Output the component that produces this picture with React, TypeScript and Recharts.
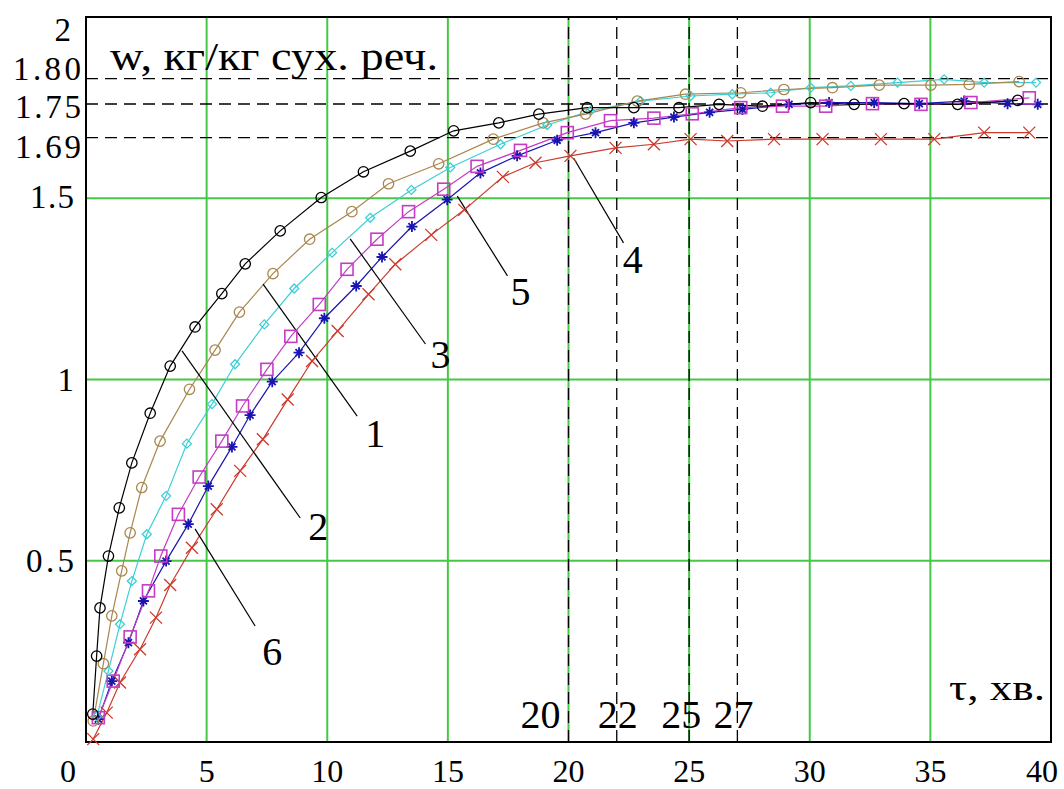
import React from 'react';
import {
  LineChart,
  Line,
  XAxis,
  YAxis,
  CartesianGrid,
  ReferenceLine,
  ReferenceArea,
  ReferenceDot
} from 'recharts';

const FONT = '"Liberation Serif", "Times New Roman", serif';

// curve 1 (brown circles)
const tau1 = [0.30, 0.72, 1.07, 1.48, 1.83, 2.31, 3.07, 4.29, 5.35, 6.36, 7.75, 9.27, 11.02, 12.54, 14.62, 16.88, 18.95, 20.71, 22.85, 24.85, 27.14, 28.93, 30.94, 32.88, 35.02, 36.61, 38.68];
const w1 = [0.058, 0.216, 0.348, 0.472, 0.577, 0.702, 0.830, 0.973, 1.081, 1.186, 1.292, 1.387, 1.463, 1.540, 1.595, 1.663, 1.708, 1.732, 1.768, 1.787, 1.791, 1.800, 1.805, 1.812, 1.812, 1.814, 1.822];

// curve 2 (black circles)
const tau2 = [0.28, 0.44, 0.58, 0.93, 1.38, 1.90, 2.66, 3.49, 4.52, 5.63, 6.60, 8.05, 9.75, 11.50, 13.44, 15.24, 17.11, 18.77, 20.78, 22.71, 24.58, 26.24, 28.04, 30.04, 31.84, 33.91, 36.13, 38.62];
const w2 = [0.077, 0.237, 0.370, 0.513, 0.646, 0.770, 0.907, 1.037, 1.145, 1.237, 1.319, 1.410, 1.502, 1.573, 1.630, 1.686, 1.708, 1.732, 1.750, 1.750, 1.750, 1.759, 1.754, 1.764, 1.759, 1.761, 1.759, 1.770];

// curve 3 (cyan diamonds)
const tau3 = [0.45, 0.93, 1.41, 1.90, 2.52, 3.32, 4.18, 5.22, 6.18, 7.39, 8.63, 10.20, 11.78, 13.49, 15.10, 17.18, 19.12, 20.91, 22.99, 25.06, 26.79, 28.38, 30.04, 31.70, 33.64, 35.57, 37.23, 39.38];
const w3 = [0.070, 0.196, 0.325, 0.444, 0.573, 0.679, 0.823, 0.932, 1.042, 1.152, 1.251, 1.350, 1.446, 1.523, 1.585, 1.649, 1.702, 1.741, 1.768, 1.782, 1.787, 1.791, 1.805, 1.810, 1.819, 1.828, 1.819, 1.819];

// curve 4 (red crosses)
const tau4 = [0.30, 0.86, 1.41, 2.24, 2.90, 3.49, 4.39, 5.42, 6.39, 7.33, 8.36, 9.37, 10.43, 11.71, 12.82, 14.31, 15.68, 17.28, 18.63, 20.08, 21.95, 23.54, 25.06, 26.58, 28.52, 30.53, 32.95, 35.16, 37.23, 39.10];
const w4 = [0.008, 0.081, 0.164, 0.256, 0.343, 0.433, 0.536, 0.642, 0.748, 0.835, 0.945, 1.051, 1.134, 1.235, 1.318, 1.399, 1.468, 1.559, 1.598, 1.617, 1.639, 1.649, 1.663, 1.658, 1.663, 1.663, 1.663, 1.663, 1.681, 1.681];

// curve 5 (magenta squares)
const tau5 = [0.51, 1.13, 1.83, 2.59, 3.10, 3.83, 4.69, 5.63, 6.49, 7.50, 8.49, 9.67, 10.82, 12.06, 13.37, 14.83, 16.21, 18.01, 19.95, 21.74, 23.54, 25.13, 27.14, 28.87, 30.66, 32.60, 34.61, 36.68, 39.10];
const w5 = [0.067, 0.168, 0.290, 0.417, 0.513, 0.628, 0.731, 0.830, 0.927, 1.028, 1.119, 1.207, 1.304, 1.387, 1.463, 1.525, 1.588, 1.632, 1.681, 1.714, 1.721, 1.733, 1.750, 1.754, 1.754, 1.761, 1.759, 1.764, 1.777];

// curve 6 (blue stars)
const tau6 = [0.51, 1.07, 1.76, 2.38, 3.32, 4.24, 5.07, 6.05, 6.80, 7.72, 8.83, 9.88, 11.20, 12.27, 13.51, 14.97, 16.35, 17.87, 19.53, 21.12, 22.71, 24.37, 25.85, 27.21, 29.14, 30.80, 32.67, 34.54, 36.40, 38.20, 39.45];
const w6 = [0.063, 0.168, 0.274, 0.389, 0.499, 0.601, 0.706, 0.814, 0.902, 0.994, 1.074, 1.169, 1.258, 1.338, 1.422, 1.496, 1.570, 1.617, 1.660, 1.681, 1.708, 1.724, 1.737, 1.745, 1.759, 1.764, 1.764, 1.761, 1.768, 1.761, 1.759];

const xTicks = [0, 5, 10, 15, 20, 25, 30, 35, 40];
const yTicks = [0.5, 1, 1.5, 1.667, 1.76, 1.83, 2];
const yTickLabels = ['0.5', '1', '1.5', '1.69', '1.75', '1.80', '2'];
const gridX = [5, 10, 15, 20, 25, 30, 35];
const gridY = [0.5, 1, 1.5];

// dashed guide levels as they sit in the figure
const levelW = [1.667, 1.76, 1.83];
const markTau = [20, 22, 25, 27];
const markLabels = ['20', '22', '25', '27'];

// curve numbers with leader lines
const calloutNames = ['1', '2', '3', '4', '5', '6'];
const calloutFrom = [[7.34, 1.263], [3.98, 1.079], [10.95, 1.388], [20.21, 1.611], [15.39, 1.506], [4.52, 0.588]];
const calloutTo = [[11.24, 0.899], [8.88, 0.618], [14.07, 1.098], [22.28, 1.377], [17.47, 1.286], [7.01, 0.320]];
const calloutAt = [[11.99, 0.852], [9.63, 0.596], [14.69, 1.070], [22.66, 1.332], [18.01, 1.244], [7.72, 0.251]];

const zip = (tau: number[], w: number[]) => tau.map((t, i) => ({ tau: t, w: w[i] }));

const series = [
  { name: '4', data: zip(tau4, w4), color: '#cc3a2c', shape: 'cross' },
  { name: '6', data: zip(tau6, w6), color: '#1a14b0', shape: 'star' },
  { name: '5', data: zip(tau5, w5), color: '#c43cc4', shape: 'square' },
  { name: '3', data: zip(tau3, w3), color: '#3ccfd6', shape: 'diamond' },
  { name: '1', data: zip(tau1, w1), color: '#a8864e', shape: 'circle' },
  { name: '2', data: zip(tau2, w2), color: '#000000', shape: 'circle' },
];

// label nudges (px), the figure spreads the crowded top labels apart
const yTickShift: Record<string, { dx: number; dy: number; len?: number }> = {
  '0.5': { dx: -12, dy: 0, len: 48 },
  '1': { dx: -12, dy: 0 },
  '1.5': { dx: -12, dy: -2, len: 44 },
  '1.69': { dx: -5, dy: 9, len: 66 },
  '1.75': { dx: -5, dy: 2, len: 66 },
  '1.80': { dx: -5, dy: -10, len: 68 },
  '2': { dx: -15, dy: 12 },
};
const markShift = [-28, 1, -8, -4];

const marker = (shape: string, color: string) => (props: any) => {
  const { cx, cy, index } = props;
  if (cx == null || cy == null) return <g key={index} />;
  const common = { fill: 'none', stroke: color, strokeWidth: 1.3 };
  if (shape === 'circle') return <circle key={index} cx={cx} cy={cy} r={5.2} {...common} />;
  if (shape === 'diamond') {
    const s = 4.5;
    return <path key={index} d={`M${cx},${cy - s}L${cx + s},${cy}L${cx},${cy + s}L${cx - s},${cy}Z`} {...common} />;
  }
  if (shape === 'square') return <rect key={index} x={cx - 6} y={cy - 6} width={12} height={12} {...common} strokeWidth={1.6} />;
  if (shape === 'cross') {
    const s = 6;
    return <path key={index} d={`M${cx - s},${cy - s}L${cx + s},${cy + s}M${cx - s},${cy + s}L${cx + s},${cy - s}`} {...common} />;
  }
  const a = 5.5, b = 3.5;
  return (
    <path key={index}
      d={`M${cx - a},${cy}L${cx + a},${cy}M${cx},${cy - a}L${cx},${cy + a}M${cx - b},${cy - b}L${cx + b},${cy + b}M${cx - b},${cy + b}L${cx + b},${cy - b}`}
      stroke={color} strokeWidth={1.8} fill="none" />
  );
};

const XTick = (props: any) => {
  const { x, y, payload, index } = props;
  const dx = index === 0 ? -18 : index === xTicks.length - 1 ? -9 : 0;
  return (
    <text x={x + dx} y={y + 40} textAnchor="middle" fontSize={32} fontFamily={FONT} fill="#000">
      {payload.value}
    </text>
  );
};

const YTick = (props: any) => {
  const { x, y, payload } = props;
  const i = yTicks.findIndex(v => Math.abs(v - payload.value) < 1e-6);
  const label = yTickLabels[i];
  const shift = yTickShift[label] || { dx: 0, dy: 0 };
  return (
    <text x={x + shift.dx} y={y + shift.dy} dy="0.35em" textAnchor="end" fontSize={33} fontFamily={FONT} fill="#000"
      textLength={shift.len} lengthAdjust={shift.len ? 'spacing' : undefined}>
      {label}
    </text>
  );
};

export default function App() {
  return (
    <div style={{ position: 'absolute', left: 0, top: 0, width: 1064, height: 789, background: '#fff' }}>
      <LineChart width={1064} height={789} margin={{ top: 17, right: 13, bottom: 7, left: 8 }} style={{ fontFamily: FONT }}>
        <CartesianGrid horizontalValues={gridY} verticalValues={gridX} stroke="#46c846" strokeWidth={2} />
        <XAxis
          dataKey="tau"
          type="number"
          domain={[0, 40]}
          ticks={xTicks}
          interval={0}
          height={40}
          tickLine={false}
          tickSize={0}
          tickMargin={0}
          axisLine={{ stroke: '#000', strokeWidth: 2 }}
          tick={<XTick />}
          label={{
            content: (p: any) => (
              <text x={p.viewBox.x + p.viewBox.width - 6} y={p.viewBox.y - 42} textAnchor="end"
                fontSize={36} fontFamily={FONT} fill="#000" textLength={96} lengthAdjust="spacingAndGlyphs">
                τ, хв.
              </text>
            )
          }}
        />
        <YAxis
          type="number"
          domain={[0, 2]}
          ticks={yTicks}
          interval={0}
          width={78}
          tickLine={false}
          tickSize={0}
          tickMargin={0}
          axisLine={{ stroke: '#000', strokeWidth: 2 }}
          tick={<YTick />}
          label={{
            content: (p: any) => (
              <text x={p.viewBox.x + p.viewBox.width + 24} y={p.viewBox.y + 53} textAnchor="start"
                fontSize={40} fontFamily={FONT} fill="#000" textLength={328} lengthAdjust="spacingAndGlyphs">
                w, кг/кг сух. реч.
              </text>
            )
          }}
        />
        <ReferenceArea x1={0} x2={40} y1={0} y2={2} fill="none" stroke="#000" strokeWidth={2} />
        {levelW.map(v => (
          <ReferenceLine key={`lv-${v}`} y={v} stroke="#000" strokeWidth={1.3} strokeDasharray="12 7" />
        ))}
        {markTau.map((t, i) => (
          <ReferenceLine
            key={`mk-${t}`}
            x={t}
            stroke="#000"
            strokeWidth={1.3}
            strokeDasharray="12 7"
            label={{
              content: (p: any) => (
                <text x={p.viewBox.x + markShift[i]} y={p.viewBox.y + p.viewBox.height - 14} textAnchor="middle"
                  fontSize={40} fontFamily={FONT} fill="#000">
                  {markLabels[i]}
                </text>
              )
            }}
          />
        ))}
        {series.map(s => (
          <Line
            key={s.name}
            name={s.name}
            data={s.data}
            dataKey="w"
            type="linear"
            stroke={s.color}
            strokeWidth={1.2}
            dot={marker(s.shape, s.color)}
            activeDot={false}
            isAnimationActive={false}
          />
        ))}
        {calloutNames.map((n, i) => (
          <ReferenceLine
            key={`ld-${n}`}
            segment={[{ x: calloutFrom[i][0], y: calloutFrom[i][1] }, { x: calloutTo[i][0], y: calloutTo[i][1] }]}
            stroke="#000"
            strokeWidth={1.2}
          />
        ))}
        {calloutNames.map((n, i) => (
          <ReferenceDot
            key={`cl-${n}`}
            x={calloutAt[i][0]}
            y={calloutAt[i][1]}
            r={0}
            fill="none"
            stroke="none"
            label={{ value: n, position: 'center', fontSize: 40, fontFamily: FONT, fill: '#000' }}
          />
        ))}
      </LineChart>
    </div>
  );
}
